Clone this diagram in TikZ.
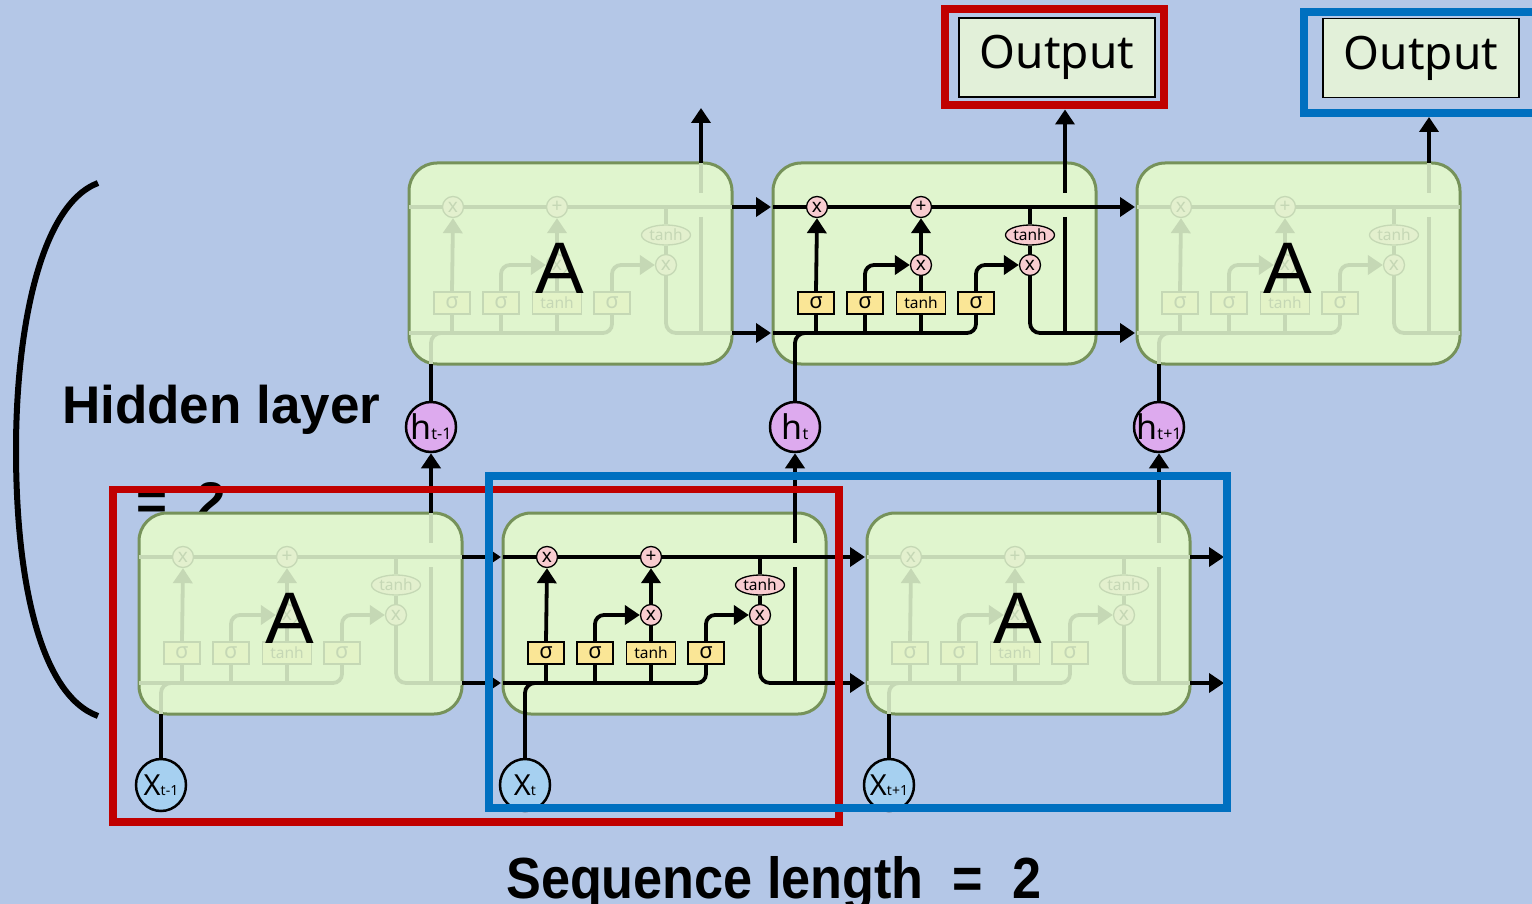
\documentclass[tikz,border=0pt]{standalone}
\usepackage{fontspec}
\usepackage{graphicx}
\usetikzlibrary{arrows.meta,shapes.geometric}
\newfontfamily\lsans{Liberation Sans}
\newfontfamily\nsans{Noto Sans}
\definecolor{bgblue}{RGB}{180,199,231}
\definecolor{cellg}{RGB}{224,245,206}
\definecolor{cellb}{RGB}{118,146,90}
\definecolor{gyel}{RGB}{250,230,150}
\definecolor{opink}{RGB}{248,204,208}
\definecolor{hpurp}{RGB}{221,170,238}
\definecolor{xblue}{RGB}{166,208,240}
\definecolor{outg}{RGB}{226,240,217}
\definecolor{fred}{RGB}{192,0,0}
\definecolor{fblue}{RGB}{0,112,192}
\colorlet{ln}{black}
\colorlet{lnop}{opink}
\colorlet{lngy}{gyel}
\pgfdeclarelayer{base}
\pgfdeclarelayer{cells}
\pgfdeclarelayer{lines}
\pgfdeclarelayer{top}
\pgfsetlayers{base,cells,lines,main,top}
\tikzset{
 wire/.style={line width=3.8pt, draw=ln},
 arr/.style={wire, -{Triangle[length=15pt,width=19pt]}},
 xarr/.style={line width=3.8pt, draw=black, -{Triangle[length=15pt,width=19pt]}},
 xwire/.style={line width=3.4pt, draw=black},
 cellbox/.style={fill=cellg, draw=cellb, line width=3pt, rounded corners=28pt},
 gate/.style={draw=ln, fill=lngy, line width=1.3pt, minimum width=36pt, minimum height=22pt, inner sep=0pt, text=ln, font=\nsans\fontsize{22}{22}\selectfont},
 gatet/.style={gate, minimum width=49pt, font=\nsans\fontsize{15.5}{15.5}\selectfont},
 op/.style={circle, draw=ln, fill=lnop, line width=1.3pt, minimum size=21pt, inner sep=0pt, text=ln, font=\nsans\fontsize{19}{19}\selectfont},
 tanhe/.style={ellipse, draw=ln, fill=lnop, line width=1.3pt, minimum width=49pt, minimum height=20pt, inner sep=0pt, text=ln, font=\nsans\fontsize{15.5}{15.5}\selectfont},
 bigA/.style={inner sep=0pt, font=\lsans\fontsize{73}{73}\selectfont},
 hcirc/.style={circle, draw=black, fill=hpurp, line width=2.5pt, minimum size=50pt, inner sep=0pt},
 xcirc/.style={ellipse, draw=black, fill=xblue, line width=2.5pt, minimum width=50pt, minimum height=52pt, inner sep=0pt},
 outbox/.style={draw=black, fill=outg, line width=1.5pt, minimum width=196pt, minimum height=79pt, inner sep=0pt, font=\nsans\fontsize{46}{46}\selectfont},
 frame/.style={line width=8pt, inner sep=0pt},
 bigtxt/.style={anchor=base west, inner sep=0pt, font=\lsans\bfseries\fontsize{53}{53}\selectfont},
}
% name, ox, oy, mix percentage
\newcommand\lstmcell[4]{%
 \colorlet{ln}{black!#4!cellg}%
 \colorlet{lnop}{opink!#4!cellg}%
 \colorlet{lngy}{gyel!#4!cellg}%
 \begin{scope}[shift={(#2,#3)}]
  \begin{pgfonlayer}{cells}
   \path[cellbox] (0,0) rectangle (323,201);
  \end{pgfonlayer}
  \node[gate] (#1s1) at (43,140) {σ};
  \node[gate] (#1s2) at (92,140) {σ};
  \node[gatet] (#1tg) at (148,140) {tanh};
  \node[gate] (#1s3) at (203,140) {σ};
  \node[op] (#1m1) at (44,44) {x};
  \node[op] (#1pl) at (148,44) {+};
  \node[op] (#1m2) at (148,102) {x};
  \node[op] (#1m3) at (257,102) {x};
  \node[tanhe] (#1te) at (257,72) {tanh};
  \coordinate (#1in) at (22,201);
  \coordinate (#1cl) at (0,44);
  \coordinate (#1cr) at (323,44);
  \coordinate (#1hl) at (0,170);
  \coordinate (#1hr) at (323,170);
  \coordinate (#1top) at (292,0);
  \begin{pgfonlayer}{lines}
   \draw[wire] (#1cl) -- (#1cr);
   \draw[wire] (257,44) -- (#1te.north);
   \draw[wire] (#1te.south) -- (#1m3.north);
   \draw[wire, rounded corners=10pt] (#1m3.south) |- (#1hr);
   \draw[wire, rounded corners=9pt] (#1hl) -| (#1s3.south);
   \draw[wire, rounded corners=10pt] (#1in) |- (60,170);
   \draw[wire] (#1s1.south) -- (43,170);
   \draw[wire] (#1s2.south) -- (92,170);
   \draw[wire] (#1tg.south) -- (148,170);
   \draw[arr] (#1s1.north) -- (#1m1.south);
   \draw[arr, rounded corners=9pt] (#1s2.north) |- (#1m2.west);
   \draw[wire] (#1tg.north) -- (#1m2.south);
   \draw[arr] (#1m2.north) -- (#1pl.south);
   \draw[arr, rounded corners=9pt] (#1s3.north) |- (#1m3.west);
   \draw[wire] (#1top) -- (292,30);
   \draw[wire] (292,54) -- (292,170);
  \end{pgfonlayer}
  \ifnum#4<100 \node[bigA] (#1A) at (151,105) {A};\fi
 \end{scope}}

\begin{document}
\begin{tikzpicture}[x=1pt,y=-1pt]
\useasboundingbox (0,0) rectangle (1532,904);
\begin{pgfonlayer}{base}
 \fill[bgblue] (0,0) rectangle (1532,904);
 \node[bigtxt] (hid) at (62,423) {\scalebox{1.0}[1]{Hidden layer}};
 \node[bigtxt] (hideq) at (136,519) {=\ \ 2};
 \node[anchor=base west, inner sep=0pt, font=\lsans\bfseries\fontsize{58}{58}\selectfont] (seq) at (506,898) {\scalebox{0.9}[1]{Sequence length\ \ =\ \ 2}};
 \draw[line width=6pt] (98,183) .. controls (40,205) and (16,330) .. (16,450) .. controls (16,580) and (40,695) .. (98,716);
\end{pgfonlayer}

% cells
\lstmcell{T1}{409}{163}{12}
\lstmcell{T2}{773}{163}{100}
\lstmcell{T3}{1137}{163}{12}
\lstmcell{B1}{139}{513}{12}
\lstmcell{B2}{503}{513}{100}
\lstmcell{B3}{867}{513}{12}

% h and x circles
\node[hcirc, label={center:{\nsans\fontsize{34}{34}\selectfont h\fontsize{16}{16}\selectfont t-1}}] (h1) at (431,427) {};
\node[hcirc, label={center:{\nsans\fontsize{34}{34}\selectfont h\fontsize{16}{16}\selectfont t}}] (h2) at (795,427) {};
\node[hcirc, label={center:{\nsans\fontsize{34}{34}\selectfont h\fontsize{16}{16}\selectfont t+1}}] (h3) at (1159,427) {};
\node[xcirc, label={center:{\nsans\fontsize{29}{29}\selectfont X\fontsize{14}{14}\selectfont t-1}}] (x1) at (161,785) {};
\node[xcirc, label={center:{\nsans\fontsize{29}{29}\selectfont X\fontsize{14}{14}\selectfont t}}] (x2) at (525,785) {};
\node[xcirc, label={center:{\nsans\fontsize{29}{29}\selectfont X\fontsize{14}{14}\selectfont t+1}}] (x3) at (889,785) {};

% output boxes
\begin{pgfonlayer}{top}
 \node[frame, draw=fred, minimum width=219pt, minimum height=96pt] (redout) at (1054.5,57) {};
 \node[outbox] (out1) at (1057,57.5) {Output};
 \draw[fblue, line width=8pt] (1545,12) -- (1304,12) -- (1304,113) -- (1545,113);
 \node[outbox] (out2) at (1421,58) {Output};
 \coordinate (redb) at (1065,109.5);
 \coordinate (blueb) at (1429,117);
 \draw[fred, line width=7.5pt] (113,489.5) rectangle (839,822);
 \draw[fblue, line width=8pt] (489,476) rectangle (1227,808);
\end{pgfonlayer}

% connectors
\coordinate (T1up) at (701,108);
\coordinate (B3co) at (1224,557);
\coordinate (B3ho) at (1224,683);
\begin{pgfonlayer}{lines}
 \draw[xarr, shorten >=2pt] (T1cr) -- (T2cl);
 \draw[xarr, shorten >=2pt] (T1hr) -- (T2hl);
 \draw[xarr, shorten >=2pt] (T2cr) -- (T3cl);
 \draw[xarr, shorten >=2pt] (T2hr) -- (T3hl);
 \draw[xarr, shorten >=2pt] (B1cr) -- (B2cl);
 \draw[xarr, shorten >=2pt] (B1hr) -- (B2hl);
 \draw[xarr, shorten >=2pt] (B2cr) -- (B3cl);
 \draw[xarr, shorten >=2pt] (B2hr) -- (B3hl);
 \draw[xarr] (B3cr) -- (B3co);
 \draw[xarr] (B3hr) -- (B3ho);
 \draw[xarr] (B1top) -- (h1.south);
 \draw[xarr] (B2top) -- (h2.south);
 \draw[xarr] (B3top) -- (h3.south);
 \draw[xwire] (h1.north) -- (T1in);
 \draw[xwire] (h2.north) -- (T2in);
 \draw[xwire] (h3.north) -- (T3in);
 \draw[xwire] (x1.north) -- (B1in);
 \draw[xwire] (x2.north) -- (B2in);
 \draw[xwire] (x3.north) -- (B3in);
 \draw[xarr] (T1top) -- (T1up);
 \draw[xarr] (T2top) -- (redb);
 \draw[xarr] (T3top) -- (blueb);
\end{pgfonlayer}
\end{tikzpicture}
\end{document}
